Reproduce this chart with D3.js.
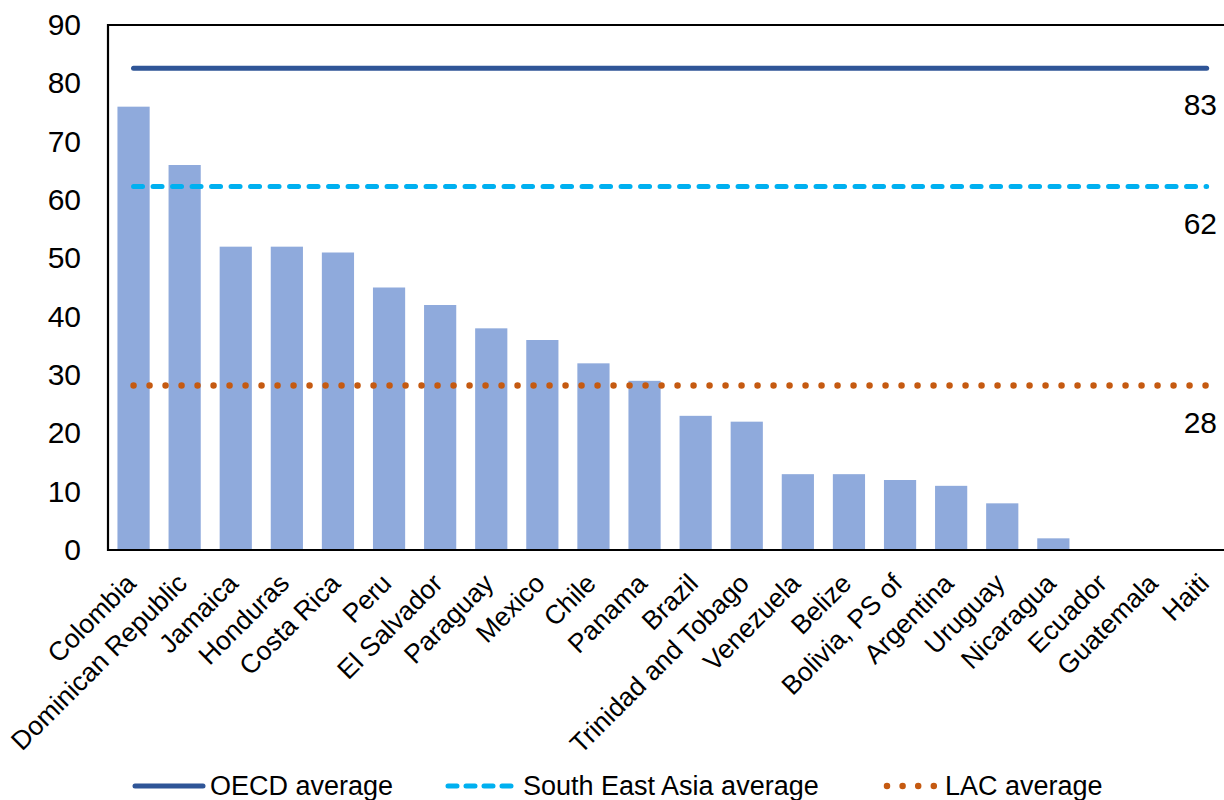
<!DOCTYPE html>
<html><head><meta charset="utf-8">
<script src="https://cdn.jsdelivr.net/npm/d3@7"></script>
<style>body{margin:0;background:#fff}svg{display:block;font-family:Arial,"Liberation Sans",sans-serif}</style>
</head><body>
<svg id="c" width="1224" height="800"></svg>
<script>
const categories = ["Colombia","Dominican Republic","Jamaica","Honduras","Costa Rica","Peru","El Salvador","Paraguay","Mexico","Chile","Panama","Brazil","Trinidad and Tobago","Venezuela","Belize","Bolivia, PS of","Argentina","Uruguay","Nicaragua","Ecuador","Guatemala","Haiti"];
const values = [76,66,52,52,51,45,42,38,36,32,29,23,22,13,13,12,11,8,2,0,0,0];
const oecdAvg = 82.6, seaAvg = 62.3, lacAvg = 28.2;
const refLines = [
  {name:"OECD average", value:oecdAvg},
  {name:"South East Asia average", value:seaAvg},
  {name:"LAC average", value:lacAvg}
];
const yTicks = [0,10,20,30,40,50,60,70,80,90];

const svg = d3.select("#c");
const L = 108, T = 25, B = 550, R = 108 + 22*51.1;
const x = d3.scaleBand().domain(categories).range([L,R]).paddingInner(0.37).paddingOuter(0.185);
const y = d3.scaleLinear().domain([0,90]).range([B,T]);

const styles = {
  "OECD average": {stroke:"#2f5597", w:5, dash:null},
  "South East Asia average": {stroke:"#00b0f0", w:5, dash:"9,10.5"},
  "LAC average": {stroke:"#c55a11", w:6.5, dash:"0,16"}
};

// bars
svg.append("g").selectAll("rect").data(categories).join("rect")
  .attr("x", d=>x(d)).attr("width", x.bandwidth())
  .attr("y", (d,i)=>y(values[i])).attr("height",(d,i)=>y(0)-y(values[i]))
  .attr("fill","#8faadc");

// frame
svg.append("path").attr("d",`M${R},${T}H${L}V${B}H${R}`).attr("fill","none").attr("stroke","#000").attr("stroke-width",2.2);

// y axis
const ya = svg.append("g").attr("transform",`translate(${L},0)`).call(d3.axisLeft(y).tickValues(yTicks).tickSize(0).tickPadding(27));
ya.select(".domain").remove();
ya.selectAll("text").attr("font-size",30).attr("fill","#000").attr("font-family","Arial, 'Liberation Sans', sans-serif");

// x labels
const xa = svg.append("g").attr("transform",`translate(0,${B})`).call(d3.axisBottom(x).tickSize(0).tickFormat(d=>d));
xa.select(".domain").remove();
xa.selectAll("text")
  .attr("font-size",26.5).attr("fill","#000").attr("font-family","Arial, 'Liberation Sans', sans-serif")
  .attr("text-anchor","end").attr("dy",null).attr("y",0)
  .attr("transform","translate(4,35) rotate(-45)");

// ref lines
const first = x(categories[0]) + x.bandwidth()/2;
const last = x(categories[categories.length-1]) + x.bandwidth()/2;
refLines.forEach(r=>{
  const s = styles[r.name];
  const ln = svg.append("line").attr("x1",first).attr("x2",last)
    .attr("y1",y(r.value)).attr("y2",y(r.value))
    .attr("stroke",s.stroke).attr("stroke-width",s.w).attr("stroke-linecap","round");
  if (s.dash) ln.attr("stroke-dasharray",s.dash);
  svg.append("text").attr("x",1217).attr("y",y(r.value)+47)
    .attr("text-anchor","end").attr("font-size",30).attr("fill","#000")
    .text(Math.round(r.value));
});

// legend
const leg = [
  {name:"OECD average", x1:135, x2:203, tx:210},
  {name:"South East Asia average", x1:448, x2:519, tx:523},
  {name:"LAC average", x1:887, x2:935, tx:945}
];
leg.forEach(l=>{
  const s = styles[l.name];
  const ln = svg.append("line").attr("x1",l.x1).attr("x2",l.x2).attr("y1",786).attr("y2",786)
    .attr("stroke",s.stroke).attr("stroke-width",s.w).attr("stroke-linecap","round");
  if (s.dash) ln.attr("stroke-dasharray", l.name==="LAC average" ? "0,15.6" : "9,9");
  svg.append("text").attr("x",l.tx).attr("y",795).attr("font-size",27).attr("fill","#000").text(l.name);
});
</script>
</body></html>
